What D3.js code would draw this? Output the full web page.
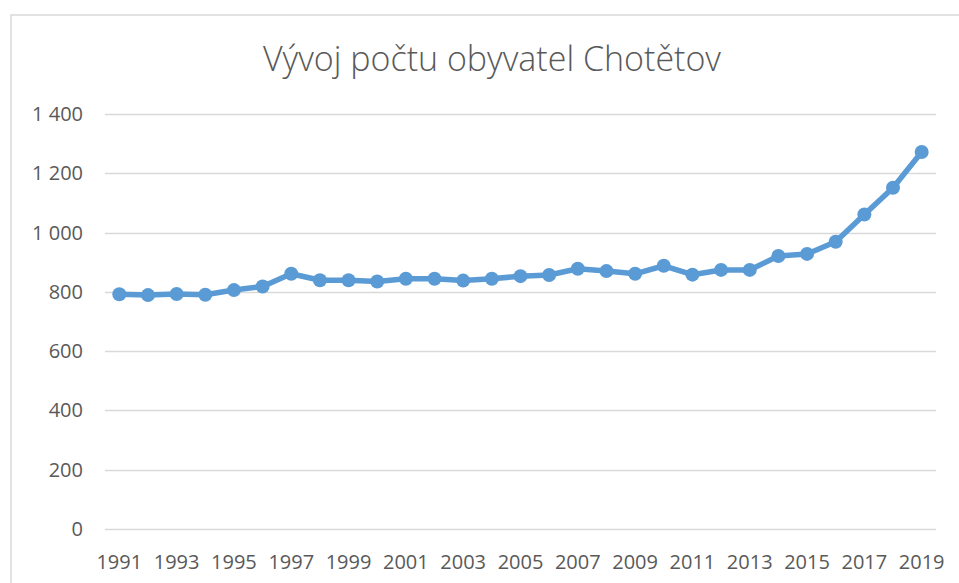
<!DOCTYPE html>
<html>
<head>
<meta charset="utf-8">
<script src="https://cdn.jsdelivr.net/npm/d3@7"></script>
<style>
  body { margin: 0; background: #fff; }
  svg { display: block; }
</style>
</head>
<body>
<div id="chart"></div>
<script>
const years = [1991, 1992, 1993, 1994, 1995, 1996, 1997, 1998, 1999, 2000,
  2001, 2002, 2003, 2004, 2005, 2006, 2007, 2008, 2009, 2010,
  2011, 2012, 2013, 2014, 2015, 2016, 2017, 2018, 2019];
const population = [792, 789, 793, 790, 806, 818, 861, 839, 839, 835,
  844, 844, 838, 844, 853, 857, 878, 870, 861, 888,
  858, 874, 874, 921, 928, 969, 1061, 1151, 1272];
const yTicks = [0, 200, 400, 600, 800, 1000, 1200, 1400];
const title = 'Vývoj počtu obyvatel Chotětov';

const width = 959, height = 583;
const margin = {top: 114, right: 23, bottom: 54, left: 105};
const font = '"Open Sans", "Liberation Sans", Arial, sans-serif';
const textColor = '#595959';
const lineColor = '#5B9BD5';

const svg = d3.select('#chart').append('svg')
  .attr('width', width)
  .attr('height', height);

// chart area frame (right/bottom edges are off the picture)
svg.append('rect')
  .attr('x', 11).attr('y', 15)
  .attr('width', 980).attr('height', 600)
  .attr('fill', 'none')
  .attr('stroke', '#D9D9D9')
  .attr('stroke-width', 1.5);

const x = d3.scaleBand()
  .domain(years)
  .range([margin.left, width - margin.right]);

const y = d3.scaleLinear()
  .domain([0, 1400])
  .range([height - margin.bottom, margin.top]);

// gridlines
svg.append('g')
  .selectAll('line')
  .data(yTicks)
  .enter().append('line')
  .attr('x1', margin.left)
  .attr('x2', width - margin.right)
  .attr('y1', d => Math.round(y(d)) + 0.5)
  .attr('y2', d => Math.round(y(d)) + 0.5)
  .attr('stroke', '#D9D9D9')
  .attr('stroke-width', 1.5);

// y labels
const fmt = d => d3.format(',')(d).replace(',', ' ');
svg.append('g')
  .selectAll('text')
  .data(yTicks)
  .enter().append('text')
  .attr('x', 83)
  .attr('y', d => y(d))
  .attr('dy', '0.35em')
  .attr('text-anchor', 'end')
  .attr('style', 'font-family: ' + font + '; font-size: 20px;')
  .attr('fill', textColor)
  .text(fmt);

// x labels, every other year
svg.append('g')
  .selectAll('text')
  .data(years.filter((d, i) => i % 2 === 0))
  .enter().append('text')
  .attr('x', d => x(d) + x.bandwidth() / 2)
  .attr('y', 569)
  .attr('text-anchor', 'middle')
  .attr('style', 'font-family: ' + font + '; font-size: 20px;')
  .attr('fill', textColor)
  .text(d => d);

// title
svg.append('text')
  .attr('x', 492)
  .attr('y', 71)
  .attr('text-anchor', 'middle')
  .attr('style', 'font-family: ' + font + '; font-size: 34px; font-weight: 300;')
  .attr('fill', textColor)
  .text(title);

const pts = years.map((yr, i) => ({yr: yr, v: population[i]}));

const line = d3.line()
  .x(d => x(d.yr) + x.bandwidth() / 2)
  .y(d => y(d.v));

svg.append('path')
  .datum(pts)
  .attr('d', line)
  .attr('fill', 'none')
  .attr('stroke', lineColor)
  .attr('stroke-width', 5.5)
  .attr('stroke-linejoin', 'round')
  .attr('stroke-linecap', 'round');

svg.append('g')
  .selectAll('circle')
  .data(pts)
  .enter().append('circle')
  .attr('cx', d => x(d.yr) + x.bandwidth() / 2)
  .attr('cy', d => y(d.v))
  .attr('r', 7)
  .attr('fill', lineColor);
</script>
</body>
</html>
